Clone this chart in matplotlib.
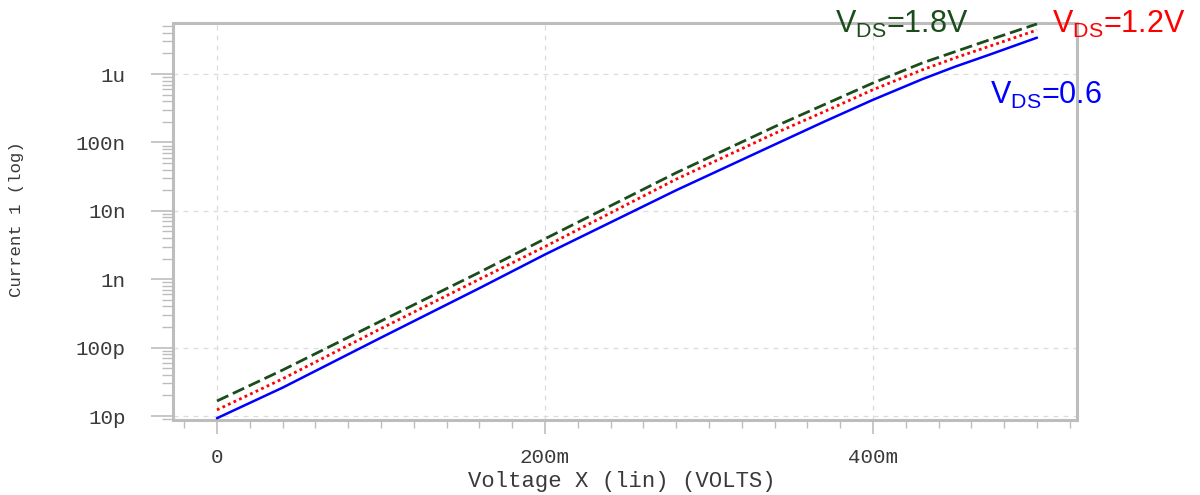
import numpy as np
import matplotlib
matplotlib.use("Agg")
import matplotlib.pyplot as plt
from matplotlib.ticker import FixedLocator, NullFormatter

# ---- data ----
vx = [0.0, 0.04, 0.10, 0.16, 0.20, 0.28, 0.34, 0.37, 0.40, 0.43, 0.45, 0.47, 0.50]
i_06 = [9.3e-12, 2.6e-11, 1.4e-10, 7.4e-10, 2.3e-9, 2.0e-8, 9.3e-8, 2.0e-7,
        4.2e-7, 8.4e-7, 1.28e-6, 1.88e-6, 3.4e-6]
i_12 = [1.23e-11, 3.5e-11, 1.9e-10, 1.0e-9, 3.0e-9, 2.9e-8, 1.35e-7, 2.8e-7,
        5.9e-7, 1.15e-6, 1.72e-6, 2.5e-6, 4.4e-6]
i_18 = [1.66e-11, 4.7e-11, 2.45e-10, 1.26e-9, 3.9e-9, 3.6e-8, 1.7e-7, 3.55e-7,
        7.4e-7, 1.45e-6, 2.12e-6, 3.1e-6, 5.4e-6]

y_ticks = [1e-11, 1e-10, 1e-9, 1e-8, 1e-7, 1e-6]
y_ticklabels = ["10p", "100p", "1n", "10n", "100n", "1u"]
x_ticks = [0.0, 0.2, 0.4]
x_ticklabels = ["0", "200m", "400m"]
y_grid = [1e-11, 1e-10, 1e-8, 1e-6]

mono = "Liberation Mono"
tick_col = "#3a3a3a"
frame_col = "#bdbdbd"
green = "#1b4d1b"

fig = plt.figure(figsize=(12, 4.95), dpi=100)
ax = fig.add_axes([0.1442, 0.1515, 0.7533, 0.802])

ax.plot(vx, i_06, color="#0000ff", lw=1.8, solid_capstyle="round", zorder=3)
ax.plot(vx, i_12, color="#ff0000", lw=2.0, linestyle=(0, (1, 1.2)), zorder=3)
ax.plot(vx, i_18, color=green, lw=2.0, linestyle=(0, (4.5, 1.8)), zorder=3)

ax.set_yscale("log")
ax.set_xlim(-0.0268, 0.5244)
ax.set_ylim(8.75e-12, 5.57e-6)

# grid
for g in y_grid:
    ax.axhline(g, color="#dcdcdc", lw=0.9, ls=(0, (4, 4)), zorder=1)
for g in x_ticks:
    ax.axvline(g, color="#dcdcdc", lw=0.9, ls=(0, (4, 4)), zorder=1)

# ticks
ax.yaxis.set_major_locator(FixedLocator(y_ticks))
ax.set_yticklabels(y_ticklabels)
minor_y = [m * 10.0 ** e for e in range(-12, -5) for m in range(2, 10)]
ax.yaxis.set_minor_locator(FixedLocator(minor_y))
ax.yaxis.set_minor_formatter(NullFormatter())
ax.xaxis.set_major_locator(FixedLocator(x_ticks))
ax.set_xticklabels(x_ticklabels)
ax.xaxis.set_minor_locator(FixedLocator(np.arange(-0.02, 0.53, 0.02)))

ax.tick_params(axis="y", which="major", direction="out", length=16, width=1.2,
               color=frame_col, pad=18, labelsize=15, labelcolor=tick_col)
ax.tick_params(axis="y", which="minor", direction="out", length=8, width=1.0,
               color=frame_col)
ax.tick_params(axis="x", which="major", direction="out", length=10, width=1.2,
               color=frame_col, pad=10, labelsize=15, labelcolor=tick_col)
ax.tick_params(axis="x", which="minor", direction="out", length=6, width=1.0,
               color=frame_col)
for lab in ax.get_xticklabels() + ax.get_yticklabels():
    lab.set_fontfamily(mono)

for s in ax.spines.values():
    s.set_color(frame_col)
    s.set_linewidth(2.2)

ax.set_xlabel("Voltage X (lin) (VOLTS)", fontfamily=mono, fontsize=16,
              color=tick_col)
ax.set_ylabel("Current 1 (log)", fontfamily=mono, fontsize=12.5,
              color=tick_col)
ax.xaxis.set_label_coords(0.497, -0.156)
ax.yaxis.set_label_coords(-0.173, 0.505)
ax.xaxis.label.set_va("center")
ax.yaxis.label.set_va("center")

# annotations
txt_kw = dict(fontfamily="Liberation Sans", fontsize=22, va="baseline", ha="left")
fig.text(835 / 1200, 1 - 33 / 495, r"$\mathregular{V_{DS}}$=1.8V", color=green, **txt_kw)
fig.text(1052 / 1200, 1 - 33 / 495, r"$\mathregular{V_{DS}}$=1.2V", color="#ff0000", **txt_kw)
fig.text(990 / 1200, 1 - 104 / 495, r"$\mathregular{V_{DS}}$=0.6", color="#0000ff", **txt_kw)

fig.savefig("out.png", dpi=100, facecolor="white")
